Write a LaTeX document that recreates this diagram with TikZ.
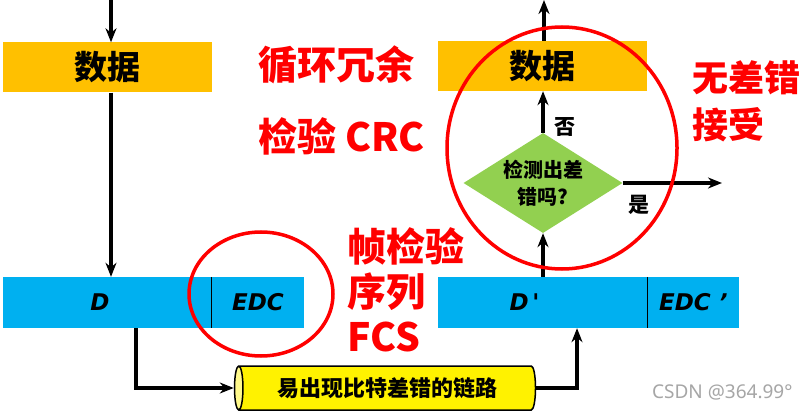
\documentclass[tikz,border=0pt]{standalone}
\usepackage{fontspec}
\setmainfont{Noto Sans CJK SC}
\newfontfamily\latinfont{DejaVu Sans}[ItalicFont={DejaVu Sans Oblique}, BoldItalicFont={DejaVu Sans Bold Oblique}]
\newfontfamily\markfont{Noto Sans}
\usetikzlibrary{arrows.meta,shapes.geometric,positioning,calc}
\definecolor{dataorange}{HTML}{FFC000}
\definecolor{frameblue}{HTML}{00B0F0}
\definecolor{checkgreen}{HTML}{92D050}
\definecolor{notered}{HTML}{FF0000}

\begin{document}
\begin{tikzpicture}[x=1pt, y=-1pt,
    databox/.style={fill=dataorange, minimum width=209pt, minimum height=50pt, inner sep=0pt, font=\fontsize{33}{33}\selectfont\bfseries},
    fieldbox/.style={fill=frameblue, minimum height=51pt, inner sep=0pt, font=\latinfont\fontsize{23}{23}\selectfont\bfseries\itshape},
    checkbox/.style={diamond, fill=checkgreen, minimum width=159pt, minimum height=100pt, inner sep=0pt},
    linkbox/.style={cylinder, shape border rotate=180, draw, line width=1.5pt, aspect=0.4, cylinder uses custom fill, cylinder body fill=yellow, cylinder end fill=yellow!45, minimum width=44pt, minimum height=301pt, inner sep=0pt, font=\fontsize{22}{22}\selectfont\bfseries},
    note/.style={text=notered, font=\fontsize{39}{45}\selectfont\bfseries, align=left, anchor=west, inner sep=0pt},
    ring/.style={draw=notered, line width=3.5pt},
    arr/.style={-{Stealth[length=14pt, width=11pt]}, line width=3.5pt},
    tag/.style={font=\fontsize{21}{21}\selectfont\bfseries, inner sep=0pt}
]
\useasboundingbox[fill=white] (0,0) rectangle (810,411);

% sender side
\coordinate (topL) at (111,0);
\node[databox] (dataL) at (107.5,67.5) {数据};
\node[fieldbox, minimum width=208pt] (dL) at (107,302.5) {D\hspace*{14pt}};
\node[fieldbox, minimum width=93pt, right=0pt of dL] (edcL) {EDC};
\draw[line width=1pt] (edcL.north west) -- (edcL.south west);

% link
\node[linkbox] (link) at (387.5,388) {易出现比特差错的链路};

% receiver side
\coordinate (topR) at (544,0);
\coordinate (yesEnd) at (722,183);
\node[databox] (dataR) at (542.5,66) {数据};
\node[checkbox, label={[font=\fontsize{20}{27}\selectfont\bfseries, align=center]center:检测出差\\错吗?}] (chk) at (543,183) {};
\node[fieldbox, minimum width=209pt] (dR) at (542.5,302.5) {D\,'\hspace*{36pt}};
\node[fieldbox, minimum width=92pt, right=0pt of dR] (edcR) {EDC ’};
\draw[line width=1pt] (edcR.north west) -- (edcR.south west);

\draw[arr] (topL) -- (topL |- dataL.north);
\draw[arr] (dataL.south -| topL) -- (dL.north -| topL);
\draw[arr] ([xshift=29pt]dL.south) |- (link.west);
\draw[arr] (link.east) -| ([xshift=34.5pt]dR.south);
\draw[arr] (dR.north -| chk) -- (chk.south);
\draw[arr] (chk.north) -- node[tag, right=10pt, pos=0.15] {否} (dataR.south -| chk);
\draw[arr] (dataR.north -| topR) -- (topR);
\draw[arr] (chk.east) -- node[tag, below=10pt, pos=0.16] {是} (yesEnd);

% notes
\node[note] (crcA) at (258,65) {循环冗余};
\node[note] (crcB) at (258,136) {检验 CRC};
\node[note] (fcs) at (347,290) {帧检验\\序列\\FCS};
\node[note, font=\fontsize{36}{47}\selectfont\bfseries] (ok) at (692,101) {无差错\\接受};
\draw[ring] (261,294) ellipse [x radius=72pt, y radius=62pt];
\draw[ring] (562,148) ellipse [x radius=115pt, y radius=121pt];

\node[text=gray!70, font=\markfont\fontsize{19}{19}\selectfont, anchor=east] (mark) at (796,392) {CSDN @364.99°};
\end{tikzpicture}
\end{document}
